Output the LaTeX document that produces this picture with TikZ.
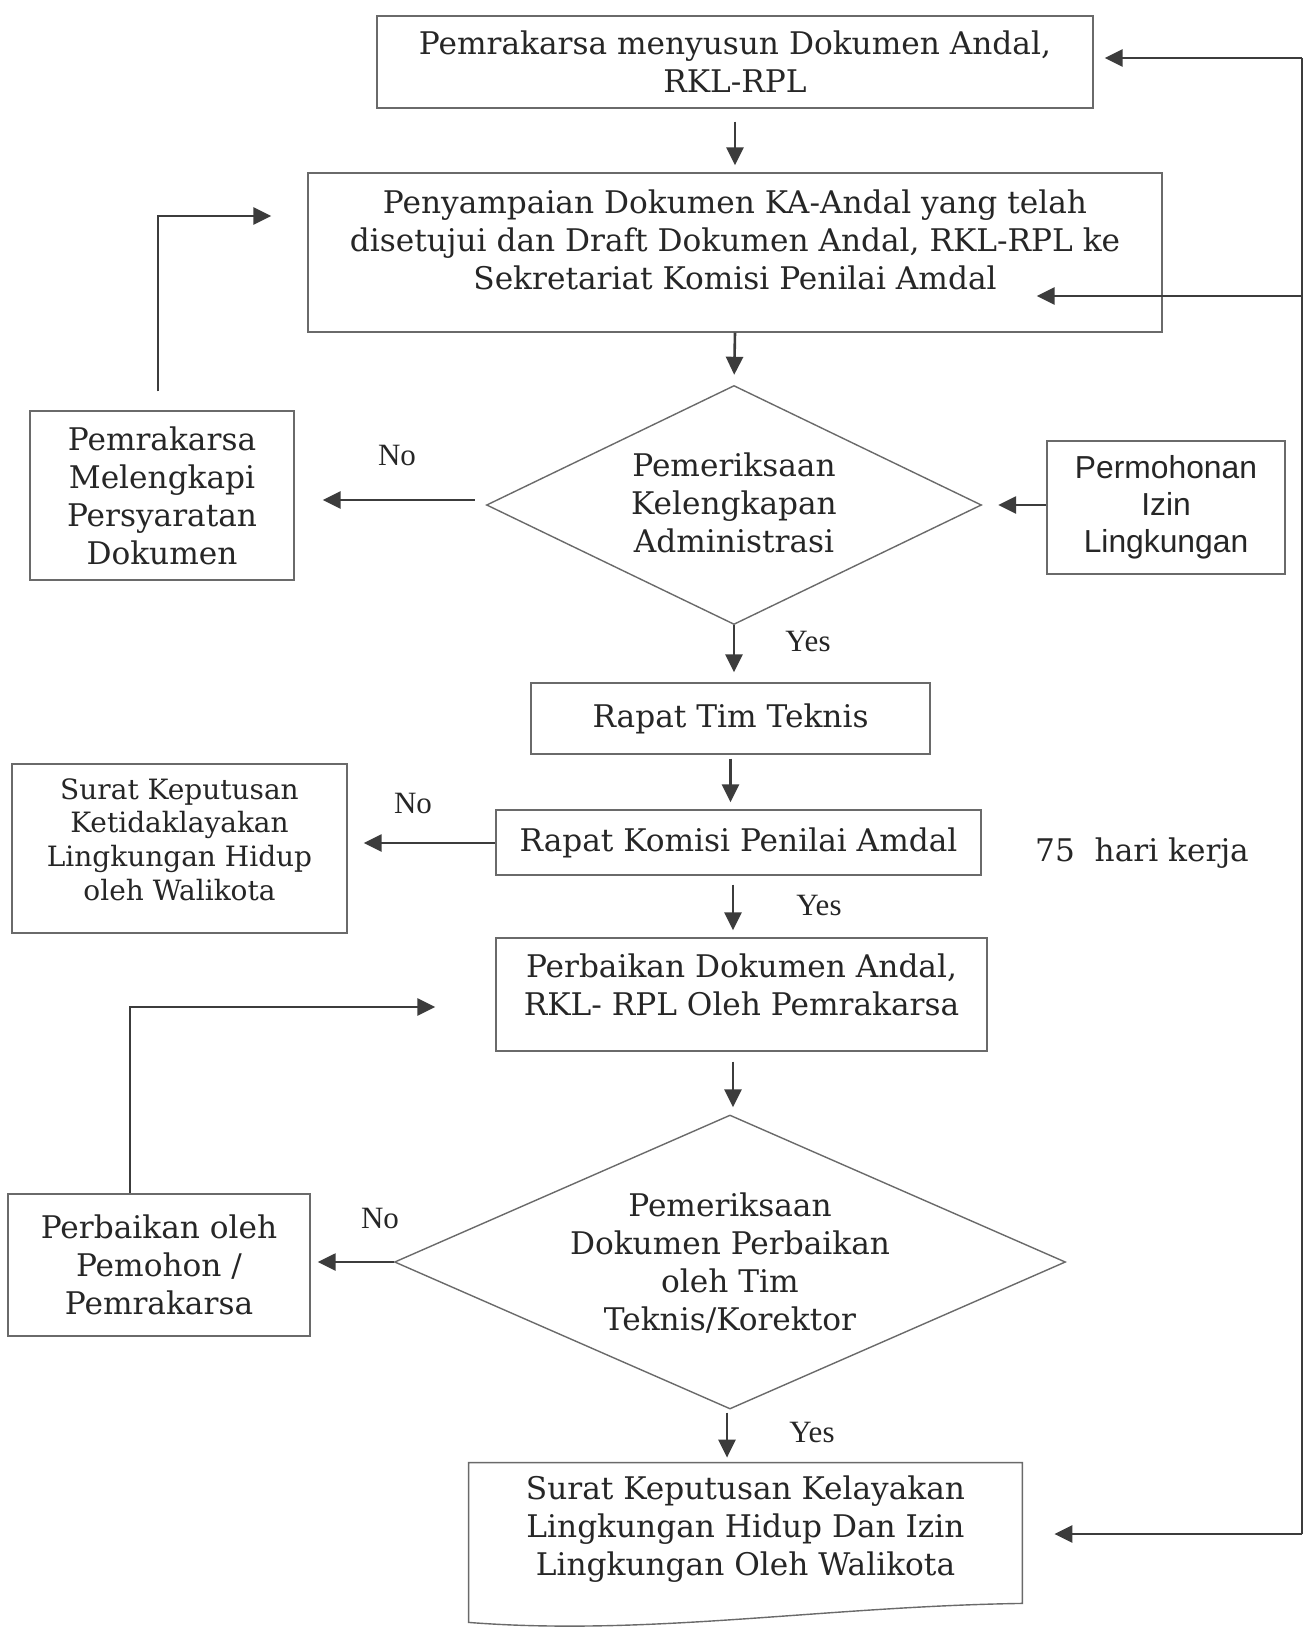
\documentclass[tikz,border=0pt]{standalone}
\usepackage{fontspec}
\setmainfont{DejaVu Serif}
\newfontfamily\sansf{Liberation Sans}
\newfontfamily\timesf{Liberation Serif}
\usetikzlibrary{arrows.meta,shapes.geometric,calc}
\newcommand{\mainsz}{\fontsize{15.6}{19}\selectfont}
\newcommand{\smallsz}{\fontsize{14}{16.8}\selectfont}
\definecolor{boxc}{HTML}{6A6A6A}
\definecolor{linec}{HTML}{3C3C3C}
\definecolor{txt}{HTML}{262626}
\begin{document}
\begin{tikzpicture}[x=0.5pt,y=-0.5pt,
  box/.style={draw=boxc, line width=0.7pt, inner sep=0pt, align=center, font=\mainsz, text=txt},
  dia/.style={draw=boxc, line width=0.7pt, shape=diamond, inner sep=0pt},
  txtn/.style={align=center, font=\mainsz, text=txt, inner sep=0pt},
  arr/.style={draw=linec, line width=1.3pt, -{Triangle[length=9pt,width=8.5pt]}},
  plain/.style={draw=linec, line width=1.3pt},
  yn/.style={font=\timesf\fontsize{15.5}{18}\selectfont, text=txt, inner sep=0pt}]
\useasboundingbox (0,0) rectangle (1307,1628);
\fill[white] (0,0) rectangle (1307,1628);

% boxes
\node[box, minimum width=358pt, minimum height=46pt] (b1) at (735,62)
  {Pemrakarsa menyusun Dokumen Andal,\\RKL-RPL};
\node[box, minimum width=427pt, minimum height=79.5pt] (b2) at (735,252.5) {};
\node[txtn] (b2t) at (735,240)
  {Penyampaian Dokumen KA-Andal yang telah\\disetujui dan Draft Dokumen Andal, RKL-RPL ke\\Sekretariat Komisi Penilai Amdal};
\node[box, minimum width=132pt, minimum height=84.5pt] (pm) at (162,495.5)
  {Pemrakarsa\\Melengkapi\\Persyaratan\\Dokumen};
\node[dia, minimum width=247.5pt, minimum height=119.5pt] (d1) at (734,505) {};
\node[txtn] (d1t) at (734,503) {Pemeriksaan\\Kelengkapan\\Administrasi};
\node[box, minimum width=119pt, minimum height=66.5pt, font=\sansf\fontsize{15.9}{18.5}\selectfont] (pi) at (1166,507.5)
  {Permohonan\\Izin\\Lingkungan};
\node[box, minimum width=199.5pt, minimum height=35.5pt] (rt) at (730.5,718.5) {Rapat Tim Teknis};
\node[box, minimum width=242.5pt, minimum height=32.5pt] (rk) at (738.5,842.5) {Rapat Komisi Penilai Amdal};
\node[box, minimum width=167.5pt, minimum height=84.5pt] (sk) at (179.5,848.5) {};
\node[txtn, font=\smallsz] (skt) at (179.5,839.5)
  {Surat Keputusan\\Ketidaklayakan\\Lingkungan Hidup\\oleh Walikota};
\node[box, minimum width=245.5pt, minimum height=56.5pt] (pd) at (741.5,994.5) {};
\node[txtn] (pdt) at (741.5,985) {Perbaikan Dokumen Andal,\\RKL- RPL Oleh Pemrakarsa};
\node[dia, minimum width=335.5pt, minimum height=147pt] (d2) at (730,1262) {};
\node[txtn] (d2t) at (730,1263)
  {Pemeriksaan\\Dokumen Perbaikan\\oleh Tim\\Teknis/Korektor};
\node[box, minimum width=151pt, minimum height=71pt] (pp) at (159,1265)
  {Perbaikan oleh\\Pemohon /\\Pemrakarsa};
\node[txtn, minimum width=276.5pt, minimum height=66.5pt] (fin) at (745.5,1529.5)
  {Surat Keputusan Kelayakan\\Lingkungan Hidup Dan Izin\\Lingkungan Oleh Walikota};
\draw[draw=boxc, line width=0.7pt] (fin.north west) -- (fin.north east)
  -- ($(fin.south east)+(0,7)$)
  .. controls ($(fin.south east)+(-200,10)$) and ($(fin.south west)+(180,40)$)
  .. ($(fin.south west)+(0,26)$) -- cycle;

% labels
\node[yn] (no1) at (397,455) {No};
\node[yn] (yes1) at (808,641) {Yes};
\node[yn] (no2) at (413,803) {No};
\node[yn] (yes2) at (819,905) {Yes};
\node[yn] (no3) at (380,1218) {No};
\node[yn] (yes3) at (812,1432) {Yes};
\node[txtn] (hk) at (1142,853) {75\ \ hari kerja};

% main vertical flow
\draw[arr, shorten <=6.5pt, shorten >=3.5pt] (b1.south) -- (b2.north);
\draw[arr, shorten >=5pt] (b2.south) -- (d1.north);
\draw[arr, shorten >=5pt] (d1.south) -- (rt.north -| d1.south);
\draw[arr, shorten <=2pt, shorten >=3.5pt] (rt.south) -- (rk.north -| rt.south);
\draw[arr, shorten <=4.5pt, shorten >=3.5pt] (rk.south -| 733,0) -- (pd.north -| 733,0);
\draw[arr, shorten <=5pt, shorten >=3.5pt] (pd.south -| 733,0) -- (d2.north -| 733,0);
\draw[arr, shorten <=1.5pt, shorten >=2.5pt] (d2.south -| 727,0) -- (fin.north -| 727,0);

% side branches
\draw[arr, shorten <=5.5pt, shorten >=14pt] (d1.west |- 0,500) -- (pm.east |- 0,500);
\draw[arr, shorten >=8pt] (pi.west |- 0,505) -- (d1.east |- 0,505);
\draw[arr, shorten >=8pt] (rk.west |- 0,843) -- (sk.east |- 0,843);
\draw[arr, shorten >=3.5pt] (d2.west) -- (pp.east |- d2.west);

% loops back
\draw[arr, shorten <=9.5pt, shorten >=18pt] (pm.north -| 158,0) |- (b2.west |- 0,216);
\draw[arr, shorten >=30pt] (pp.north -| 130,0) |- (pd.west |- 0,1007);

% right return line
\coordinate (rtop) at (1302,58);
\coordinate (rmid) at (1302,296);
\coordinate (rbot) at (1302,1534);
\draw[plain] (rtop) -- (rbot);
\draw[arr, shorten >=5.5pt] (rtop) -- (b1.east |- rtop);
\draw[arr] (rmid) -- ($(b2.east |- rmid)+(-126,0)$);
\draw[arr, shorten >=16pt] (rbot) -- (fin.east |- rbot);
\end{tikzpicture}
\end{document}
